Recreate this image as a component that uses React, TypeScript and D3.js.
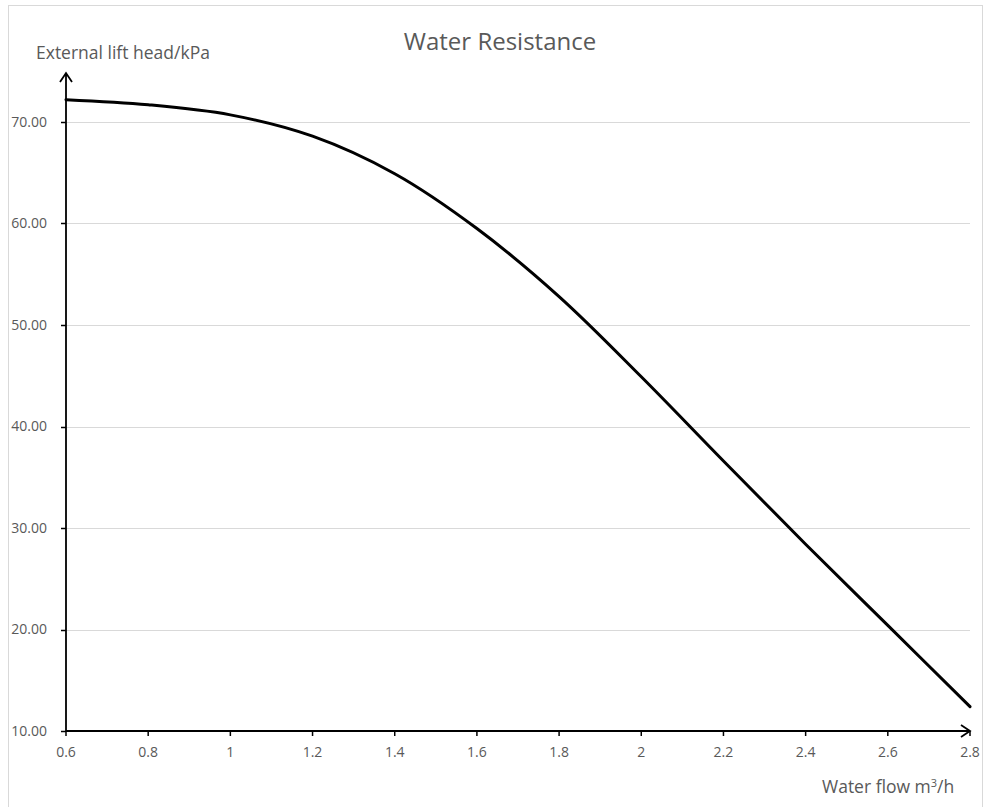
import { useEffect, useRef } from "react"
import * as d3 from "d3"

const flow = [0.6, 0.8, 1.0, 1.2, 1.4, 1.6, 1.8, 2.0, 2.2, 2.4, 2.6, 2.8]
const head = [72.2, 71.7, 70.7, 68.6, 64.9, 59.5, 52.8, 44.9, 36.6, 28.4, 20.4, 12.4]
const xTicks = [0.6, 0.8, 1, 1.2, 1.4, 1.6, 1.8, 2, 2.2, 2.4, 2.6, 2.8]
const yTicks = [10, 20, 30, 40, 50, 60, 70]

const FONT = "'Open Sans', 'Noto Sans', sans-serif"

export default function App() {
  const svgRef = useRef<SVGSVGElement>(null)

  useEffect(() => {
    const svgEl = svgRef.current
    if (!svgEl) return
    const svg = d3.select(svgEl)
    svg.selectAll("*").remove()

    const W = 985
    const H = 807
    const x = d3.scaleLinear().domain([0.6, 2.8]).range([66, 970])
    const y = d3.scaleLinear().domain([10, 70]).range([731, 122])

    // outer chart frame
    svg.append("rect")
      .attr("x", 8.5).attr("y", 5.5)
      .attr("width", W - 11).attr("height", H)
      .attr("fill", "#fff").attr("stroke", "#d9d9d9")

    // gridlines
    svg.append("g").selectAll("line").data(yTicks.filter(v => v > 10)).join("line")
      .attr("x1", x(0.6)).attr("x2", x(2.8))
      .attr("y1", d => Math.round(y(d)) + 0.5).attr("y2", d => Math.round(y(d)) + 0.5)
      .attr("stroke", "#d9d9d9").attr("stroke-width", 1)

    // y ticks + labels
    const yg = svg.append("g")
    yg.selectAll("line").data(yTicks).join("line")
      .attr("x1", x(0.6) - 5).attr("x2", x(0.6))
      .attr("y1", d => Math.round(y(d)) + 0.5).attr("y2", d => Math.round(y(d)) + 0.5)
      .attr("stroke", "#000").attr("stroke-width", 1.5)
    yg.selectAll("text").data(yTicks).join("text")
      .attr("x", 47).attr("y", d => y(d))
      .attr("dy", "0.35em").attr("text-anchor", "end")
      .attr("font-family", FONT).attr("font-size", 14).attr("fill", "#595959")
      .text(d => d3.format(".2f")(d))

    // x ticks + labels
    const xg = svg.append("g")
    xg.selectAll("line").data(xTicks).join("line")
      .attr("x1", d => x(d)).attr("x2", d => x(d))
      .attr("y1", y(10)).attr("y2", y(10) + 5)
      .attr("stroke", "#000").attr("stroke-width", 1.5)
    xg.selectAll("text").data(xTicks).join("text")
      .attr("x", d => x(d)).attr("y", 752)
      .attr("dy", "0.35em").attr("text-anchor", "middle")
      .attr("font-family", FONT).attr("font-size", 14).attr("fill", "#595959")
      .text(d => String(d))

    // axes with arrows
    const axisTop = 73
    svg.append("path")
      .attr("d", `M${x(0.6)},${y(10)}V${axisTop}M${x(0.6) - 6},${axisTop + 9}L${x(0.6)},${axisTop}L${x(0.6) + 6},${axisTop + 9}`)
      .attr("fill", "none").attr("stroke", "#000").attr("stroke-width", 1.8)
    svg.append("path")
      .attr("d", `M${x(0.6)},${y(10)}H${x(2.8)}M${x(2.8) - 9},${y(10) - 6}L${x(2.8)},${y(10)}L${x(2.8) - 9},${y(10) + 6}`)
      .attr("fill", "none").attr("stroke", "#000").attr("stroke-width", 1.8)

    // curve
    const line = d3.line<number>()
      .x((_, i) => x(flow[i]))
      .y(d => y(d))
      .curve(d3.curveCatmullRom.alpha(0.5))
    svg.append("path")
      .attr("d", line(head) || "")
      .attr("fill", "none").attr("stroke", "#000").attr("stroke-width", 3)
      .attr("stroke-linecap", "round")

    // texts
    svg.append("text")
      .attr("x", 500).attr("y", 42).attr("dy", "0.35em").attr("text-anchor", "middle")
      .attr("font-family", FONT).attr("font-size", 24).attr("fill", "#595959")
      .text("Water Resistance")
    svg.append("text")
      .attr("x", 36).attr("y", 53).attr("dy", "0.35em")
      .attr("font-family", FONT).attr("font-size", 17.5).attr("fill", "#595959")
      .text("External lift head/kPa")
    const xl = svg.append("text")
      .attr("x", 822).attr("y", 793)
      .attr("font-family", FONT).attr("font-size", 17.5).attr("fill", "#595959")
    xl.append("tspan").text("Water flow m")
    xl.append("tspan").attr("font-size", 11).attr("dy", -6).text("3")
    xl.append("tspan").attr("dy", 6).text("/h")
  }, [])

  return (
    <svg
      ref={svgRef}
      width={985}
      height={807}
      style={{ position: "absolute", left: 0, top: 0 }}
    />
  )
}
